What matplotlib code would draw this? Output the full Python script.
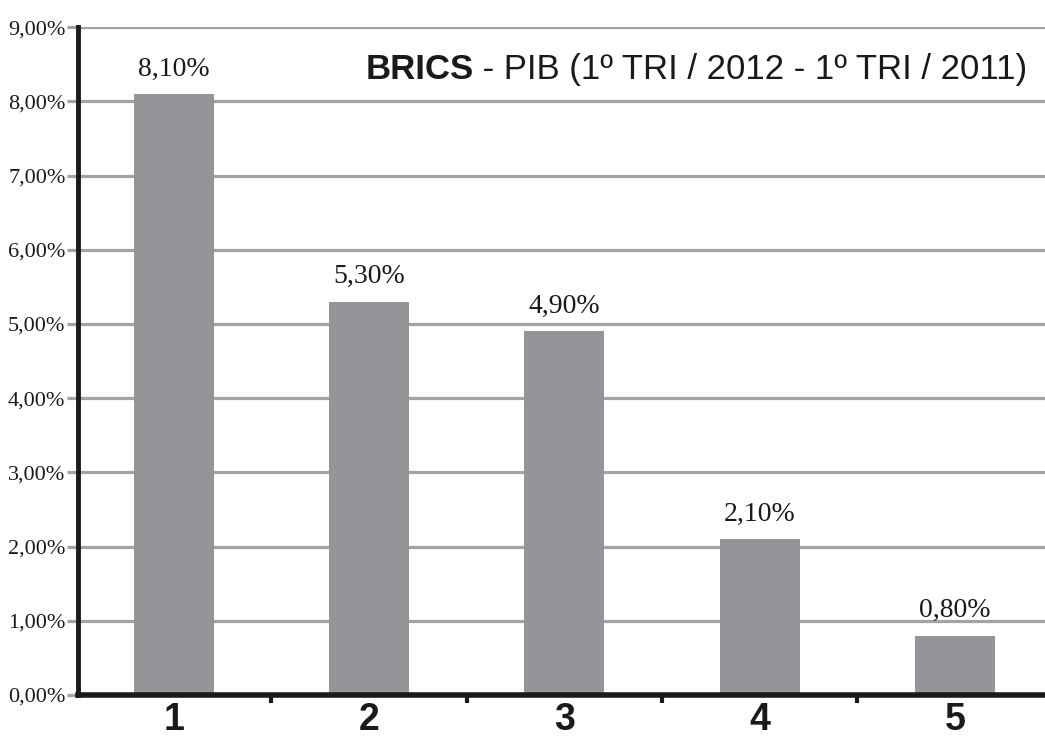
import matplotlib
matplotlib.use("Agg")
import matplotlib.pyplot as plt
import numpy as np

# Data
categories = ["1", "2", "3", "4", "5"]
values = [8.10, 5.30, 4.90, 2.10, 0.80]
value_labels = ["8,10%", "5,30%", "4,90%", "2,10%", "0,80%"]
y_ticks = [0, 1, 2, 3, 4, 5, 6, 7, 8, 9]
y_tick_labels = ["0,00%", "1,00%", "2,00%", "3,00%", "4,00%",
                 "5,00%", "6,00%", "7,00%", "8,00%", "9,00%"]

BAR = "#939598"
GRID = "#a3a3a3"
INK = "#1a1a1a"
NUM_FONT = "Liberation Serif"
SANS = "Liberation Sans"

fig = plt.figure(figsize=(10.45, 7.36), dpi=100)
ax = fig.add_axes([0.0746, 0.0557, 0.9254, 0.9073])

x = np.arange(1, len(values) + 1)
ax.bar(x, values, width=0.41, color=BAR, zorder=3)

for xi, v, lab in zip(x, values, value_labels):
    ax.annotate(lab, (xi, v), xytext=(0, 9), textcoords="offset points",
                ha="center", va="bottom", fontsize=20, color=INK, family=NUM_FONT)

ax.set_xlim(0.51, 5.46)
ax.set_ylim(0, 9)
ax.set_yticks(y_ticks)
ax.set_yticklabels(y_tick_labels, fontsize=16, color=INK, family=NUM_FONT)
ax.yaxis.grid(True, color=GRID, lw=2.3, zorder=1)
ax.tick_params(axis="y", direction="out", length=8, width=2.3, color=GRID, pad=1)

# category labels under bars, small ticks between categories
ax.set_xticks(x)
ax.set_xticklabels(categories, fontsize=27, fontweight="bold", family=SANS, color=INK)
ax.tick_params(axis="x", length=0, pad=5)
ax.set_xticks(x[:-1] + 0.5, minor=True)
ax.tick_params(axis="x", which="minor", direction="out", length=6, width=3, color=INK)

for s in ("top", "right"):
    ax.spines[s].set_visible(False)
for s, lw in (("left", 3.5), ("bottom", 4)):
    ax.spines[s].set_linewidth(lw)
    ax.spines[s].set_color(INK)
    ax.spines[s].set_zorder(5)

# title inside the plot, "BRICS" in bold
t1 = ax.text(0.982, 0.937, " - PIB (1º TRI / 2012 - 1º TRI / 2011)",
             transform=ax.transAxes, ha="right", va="center",
             fontsize=25, family=SANS, color=INK)
fig.canvas.draw()
bb = t1.get_window_extent().transformed(ax.transAxes.inverted())
ax.text(bb.x0, 0.937, "BRICS", transform=ax.transAxes, ha="right", va="center",
        fontsize=25, fontweight="bold", family=SANS, color=INK)

fig.savefig("out.png", dpi=100)
